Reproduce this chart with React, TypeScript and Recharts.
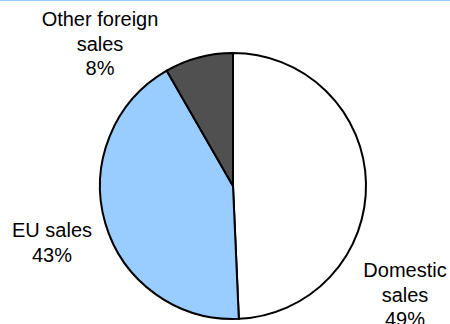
import React from 'react';
import { PieChart, Pie, Cell } from 'recharts';

// page has an 8px default margin, drop it so the chart sits at 0,0
document.body.style.margin = '0';

const categories = ['Domestic sales', 'EU sales', 'Other foreign sales'];
const shares = [49.3, 42.4, 8.3];
const percentLabels = ['49%', '43%', '8%'];
const labelLines = [['Domestic', 'sales'], ['EU sales'], ['Other foreign', 'sales']];

const sliceColors = ['#FFFFFF', '#99CCFF', '#505050'];
// where each label block sits, relative to the pie centre (first baseline)
const labelOffsets = [
  { dx: 172, dy: 91 },
  { dx: -181, dy: 51 },
  { dx: -133, dy: -160 },
];

const data = categories.map((name, i) => ({ name, value: shares[i] }));

const renderLabel = (props: any) => {
  const { cx, cy, index } = props;
  const off = labelOffsets[index];
  const lines = [...labelLines[index], percentLabels[index]];
  return (
    <text
      key={`lbl-${index}`}
      x={cx + off.dx}
      y={cy + off.dy}
      textAnchor="middle"
      fill="#000"
      fontSize={20}
      fontFamily="'Liberation Sans', Arial, sans-serif"
    >
      {lines.map((line, j) => (
        <tspan key={j} x={cx + off.dx} dy={j === 0 ? 0 : 24.5}>
          {line}
        </tspan>
      ))}
    </text>
  );
};

export default function App() {
  return (
    <div style={{ position: 'relative', width: 450, height: 324, background: '#fff', overflow: 'hidden' }}>
      <PieChart width={450} height={324} margin={{ top: 0, right: 0, bottom: 0, left: 0 }}>
        <Pie
          data={data}
          dataKey="value"
          nameKey="name"
          cx={233}
          cy={186}
          outerRadius={133}
          startAngle={90}
          endAngle={-270}
          stroke="#000"
          strokeWidth={2}
          label={renderLabel}
          labelLine={false}
          isAnimationActive={false}
        >
          {data.map((entry, i) => (
            <Cell key={entry.name} fill={sliceColors[i]} />
          ))}
        </Pie>
      </PieChart>
      {/* thin blue rule along the top edge */}
      <div style={{ position: 'absolute', top: 0, left: 0, width: 450, height: 1, background: '#99CCFF' }} />
    </div>
  );
}
